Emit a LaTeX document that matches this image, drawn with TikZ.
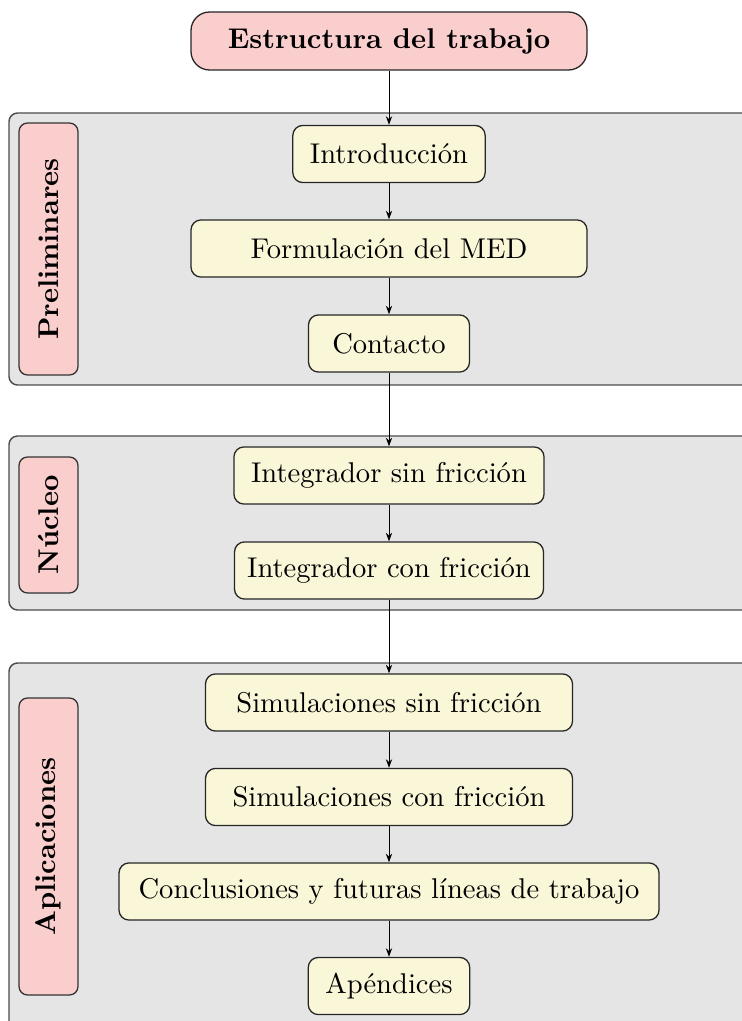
\documentclass[tikz,border=0pt]{standalone}
\usetikzlibrary{arrows.meta}
\definecolor{pinkfill}{RGB}{251,206,206}
\definecolor{creamfill}{RGB}{250,246,216}
\definecolor{groupfill}{RGB}{229,229,229}
\begin{document}
\begin{tikzpicture}[x=0.35pt,y=-0.35pt,
  groupbox/.style={draw=black!70, fill=groupfill, line width=0.5pt, rounded corners=3pt},
  labelbox/.style={draw=black!80, fill=pinkfill, line width=0.45pt, rounded corners=3pt, rotate=90,
    minimum height=20.65pt, inner sep=0pt, font=\bfseries},
  stepbox/.style={draw=black!85, fill=creamfill, line width=0.45pt, rounded corners=3.5pt,
    minimum width=56.35pt, minimum height=20pt, inner xsep=6pt, inner ysep=0pt},
  titlebox/.style={draw=black!85, fill=pinkfill, line width=0.45pt, rounded corners=6.5pt,
    minimum width=138.6pt, minimum height=20.3pt, inner sep=0pt, font=\bfseries},
  conn/.style={draw=black, line width=0.35pt, -{Stealth[length=3pt,width=2.2pt]}}
]
\useasboundingbox (0,0) rectangle (742,1021);
\clip (0,0) rectangle (742,1021);
% groups
\draw[groupbox] (9,113) rectangle (760,385);
\draw[groupbox] (9,436) rectangle (760,610);
\draw[groupbox] (9,663) rectangle (760,1040);
% group labels
\node[labelbox, minimum width=88.2pt] (lprel) at (48.5,249) {Preliminares};
\node[labelbox, minimum width=47.6pt] (lnuc) at (48.5,525) {Núcleo};
\node[labelbox, minimum width=103.95pt] (lapl) at (48.5,846.5) {Aplicaciones};
% title
\node[titlebox] (title) at (389,41) {Estructura del trabajo};
% steps
\node[stepbox] (intro) at (389,154) {Introducción};
\node[stepbox, minimum width=138.6pt] (form) at (389,248.5) {Formulación del MED};
\node[stepbox] (cont) at (389,343.5) {Contacto};
\node[stepbox, minimum width=108.15pt] (isin) at (389,475.5) {Integrador sin fricción};
\node[stepbox, minimum width=108.15pt, inner xsep=4.3pt] (icon) at (389,570.5) {Integrador con fricción};
\node[stepbox, minimum width=128.45pt] (ssin) at (389,702.5) {Simulaciones sin fricción};
\node[stepbox, minimum width=128.45pt] (scon) at (389,797) {Simulaciones con fricción};
\node[stepbox, minimum width=189pt] (concl) at (389,891.5) {Conclusiones y futuras líneas de trabajo};
\node[stepbox] (apen) at (389,986) {Apéndices};
% connectors
\draw[conn] (title) -- (intro);
\draw[conn] (intro) -- (form);
\draw[conn] (form) -- (cont);
\draw[conn] (cont) -- (isin);
\draw[conn] (isin) -- (icon);
\draw[conn] (icon) -- (ssin);
\draw[conn] (ssin) -- (scon);
\draw[conn] (scon) -- (concl);
\draw[conn] (concl) -- (apen);
\end{tikzpicture}
\end{document}
